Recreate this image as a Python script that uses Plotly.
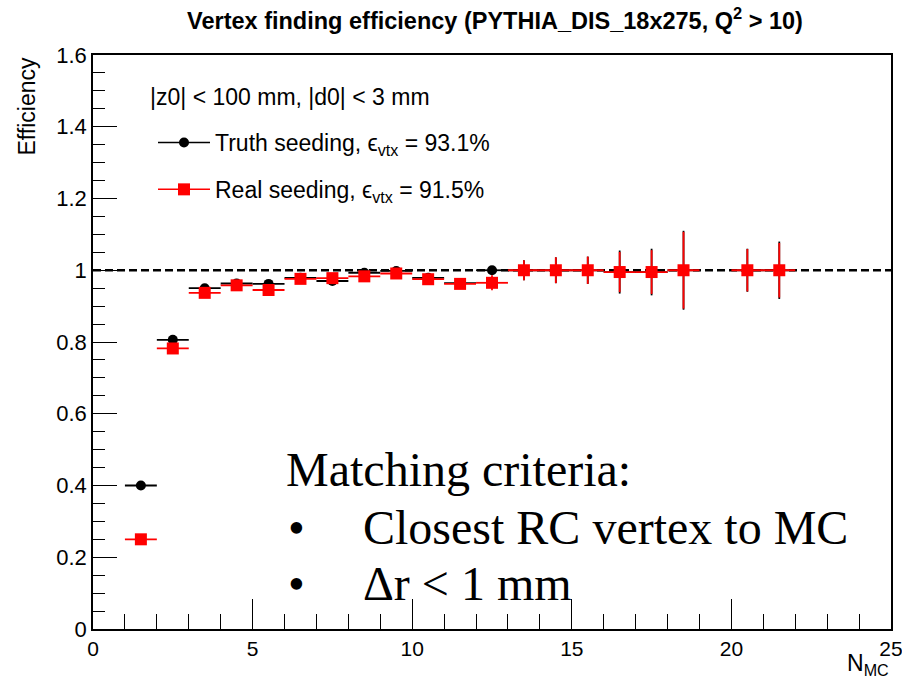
import plotly.graph_objects as go

# ---------------- data ----------------
n_mc = [1.5, 2.5, 3.5, 4.5, 5.5, 6.5, 7.5, 8.5, 9.5, 10.5, 11.5, 12.5,
        13.5, 14.5, 15.5, 16.5, 17.5, 18.5, 20.5, 21.5]
x_half_width = [0.5] * len(n_mc)

truth_eff = [0.400, 0.806, 0.950, 0.963, 0.962, 0.979, 0.970, 0.993, 0.998, 0.979,
             0.964, 1.000, 1.000, 1.000, 1.000, 0.995, 0.995, 1.000, 1.000, 1.000]
truth_err = [0.010, 0.008, 0.006, 0.006, 0.007, 0.006, 0.008, 0.006, 0.005, 0.010,
             0.012, 0.005, 0.028, 0.036, 0.038, 0.060, 0.065, 0.110, 0.060, 0.080]

real_eff = [0.250, 0.782, 0.937, 0.958, 0.945, 0.976, 0.978, 0.983, 0.991, 0.975,
            0.962, 0.965, 1.000, 1.000, 1.000, 0.995, 0.995, 1.000, 1.000, 1.000]
real_err = [0.010, 0.008, 0.007, 0.006, 0.008, 0.006, 0.006, 0.006, 0.005, 0.010,
            0.012, 0.021, 0.028, 0.036, 0.038, 0.056, 0.061, 0.107, 0.059, 0.076]

ref_x = [0, 25]
ref_y = [1, 1]

x_tickvals = [0, 5, 10, 15, 20, 25]
y_tickvals = [0, 0.2, 0.4, 0.6, 0.8, 1.0, 1.2, 1.4, 1.6]
y_ticktext = ["0", "0.2", "0.4", "0.6", "0.8", "1", "1.2", "1.4", "1.6"]

title_text = "<b>Vertex finding efficiency (PYTHIA_DIS_18x275, Q<sup>2</sup> > 10)</b>"
cut_text = "|z0| < 100 mm, |d0| < 3 mm"
truth_label = "Truth seeding, ϵ<sub>vtx</sub> = 93.1%"
real_label = "Real seeding, ϵ<sub>vtx</sub> = 91.5%"
criteria_lines = ["Matching criteria:", "Closest RC vertex to MC", "Δr < 1 mm"]

# ---------------- layout geometry ----------------
W, H = 902, 683
L, R, T, B = 93, 891, 55, 629
PW, PH = R - L, B - T


def xp(px):
    return (px - L) / PW


def yp(py):
    return (B - py) / PH


SANS = "Liberation Sans, Arial, Helvetica, sans-serif"
SERIF = "Liberation Serif, Times New Roman, serif"

fig = go.Figure()

# Truth seeding (black circles)
fig.add_trace(go.Scatter(
    x=n_mc, y=truth_eff, mode="markers",
    marker=dict(symbol="circle", size=10, color="black"),
    error_x=dict(type="data", array=x_half_width, width=0, thickness=1.8, color="black"),
    error_y=dict(type="data", array=truth_err, width=0, thickness=1.8, color="black"),
    showlegend=False, hoverinfo="x+y",
))

# reference line at 1
fig.add_trace(go.Scatter(
    x=ref_x, y=ref_y, mode="lines",
    line=dict(color="black", width=2.5, dash="8px,4px"),
    showlegend=False, hoverinfo="skip",
))

# Real seeding (red squares)
fig.add_trace(go.Scatter(
    x=n_mc, y=real_eff, mode="markers",
    marker=dict(symbol="square", size=12, color="#ff0000"),
    error_x=dict(type="data", array=x_half_width, width=0, thickness=1.8, color="#ff0000"),
    error_y=dict(type="data", array=real_err, width=0, thickness=1.8, color="#ff0000"),
    showlegend=False, hoverinfo="x+y",
))

# legend entries
fig.add_trace(go.Scatter(
    x=[None], y=[None], mode="lines+markers", name=truth_label,
    line=dict(color="black", width=1.5),
    marker=dict(symbol="circle", size=10, color="black"),
    legendgroup="a",
))
fig.add_trace(go.Scatter(
    x=[None], y=[None], mode="lines+markers", name=real_label,
    line=dict(color="#ff0000", width=1.5),
    marker=dict(symbol="square", size=12, color="#ff0000"),
    legendgroup="b",
))

annotations = [
    dict(text=cut_text, x=xp(148), y=yp(97), xref="paper", yref="paper",
         xanchor="left", yanchor="middle", showarrow=False,
         font=dict(family=SANS, size=23, color="black")),
    dict(text="Efficiency", x=xp(26), y=1.0, xref="paper", yref="paper",
         xanchor="center", yanchor="top", textangle=-90, showarrow=False,
         font=dict(family=SANS, size=23, color="black")),
    dict(text="N<sub>MC</sub>", x=xp(891), y=yp(664), xref="paper", yref="paper",
         xanchor="right", yanchor="middle", showarrow=False,
         font=dict(family=SANS, size=23, color="black")),
    dict(text=criteria_lines[0], x=xp(284), y=yp(470), xref="paper", yref="paper",
         xanchor="left", yanchor="middle", showarrow=False,
         font=dict(family=SERIF, size=48, color="black")),
]
for i, line in enumerate(criteria_lines[1:]):
    ymid = 527 + i * 56.5
    annotations.append(dict(text="•", x=xp(286), y=yp(ymid), xref="paper", yref="paper",
                            xanchor="left", yanchor="middle", showarrow=False,
                            font=dict(family=SERIF, size=48, color="black")))
    annotations.append(dict(text=line, x=xp(361), y=yp(ymid), xref="paper", yref="paper",
                            xanchor="left", yanchor="middle", showarrow=False,
                            font=dict(family=SERIF, size=48, color="black")))

fig.update_layout(
    width=W, height=H,
    margin=dict(l=L, r=W - R, t=T, b=H - B, pad=0, autoexpand=False),
    paper_bgcolor="white", plot_bgcolor="white",
    title=dict(text=title_text, x=495 / W, xanchor="center", y=1 - 21 / H, yanchor="middle",
               font=dict(family=SANS, size=23.5, color="black")),
    showlegend=True,
    legend=dict(x=xp(153), y=yp(121), xanchor="left", yanchor="top",
                bgcolor="rgba(0,0,0,0)", borderwidth=0,
                font=dict(family=SANS, size=23, color="black"),
                tracegroupgap=14, traceorder="grouped", itemwidth=52),
    annotations=annotations,
    xaxis=dict(range=[0, 25], showgrid=False, zeroline=False, automargin=False,
               showline=True, linecolor="black", linewidth=1.5, mirror=True,
               ticks="inside", ticklen=30, tickwidth=1.3, tickcolor="black",
               tickvals=x_tickvals, ticktext=[str(v) for v in x_tickvals],
               ticklabeloverflow="allow",
               tickfont=dict(family=SANS, size=21, color="black"),
               minor=dict(ticks="inside", ticklen=15, tickwidth=1.3, tickcolor="black", dtick=1,
                          showgrid=False)),
    yaxis=dict(range=[0, 1.6], showgrid=False, zeroline=False, automargin=False,
               showline=True, linecolor="black", linewidth=1.5, mirror=True,
               ticks="inside", ticklen=24, tickwidth=1.3, tickcolor="black",
               tickvals=y_tickvals, ticktext=y_ticktext,
               ticklabeloverflow="allow",
               tickfont=dict(family=SANS, size=22, color="black"),
               minor=dict(ticks="inside", ticklen=12, tickwidth=1.3, tickcolor="black", dtick=0.05,
                          showgrid=False)),
)

fig.write_html("out.html")
